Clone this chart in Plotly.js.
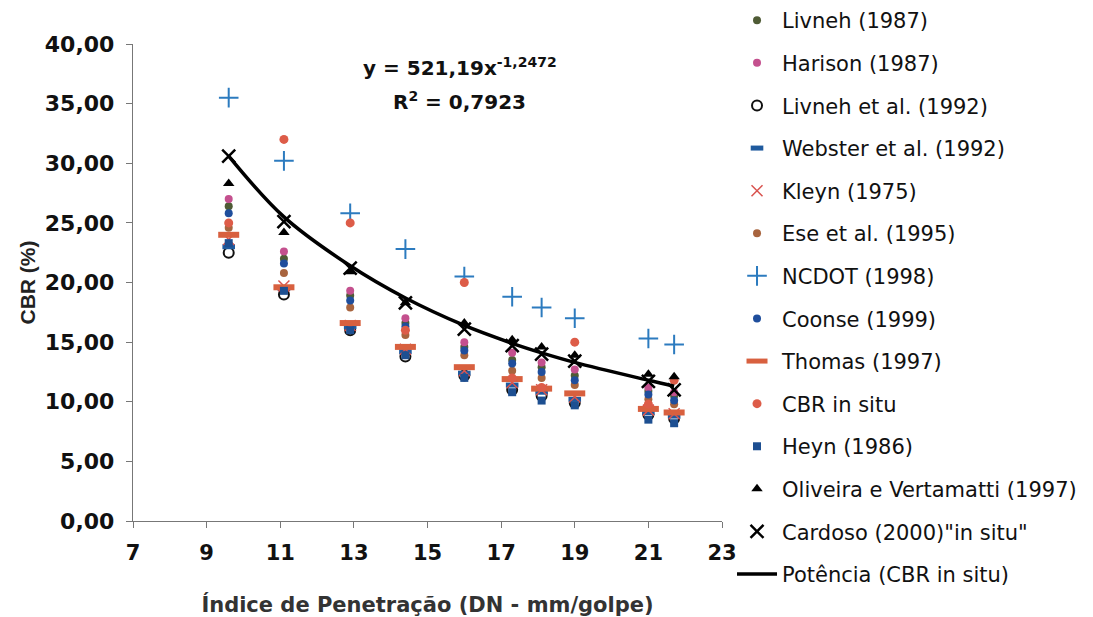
<!DOCTYPE html>
<html>
<head>
<meta charset="utf-8">
<script src="https://cdn.plot.ly/plotly-3.0.1.min.js"></script>
<style>html,body{margin:0;padding:0;background:#fff;}#chart{width:1093px;height:617px;}</style>
</head>
<body>
<div id="chart"></div>
<script>
const xDN = [9.6, 11.1, 12.9, 14.4, 16.0, 17.3, 18.1, 19.0, 21.0, 21.7];

const livneh1987   = [26.4, 22.0, 18.9, 16.6, 14.6, 13.5, 12.9, 12.2, 10.9, 10.5];
const harison1987  = [27.0, 22.6, 19.3, 17.0, 15.0, 14.1, 13.3, 12.7, 11.2, 10.8];
const livnehEtAl   = [22.5, 19.0, 16.0, 13.8, 12.2, 11.0, 10.5, 9.9, 8.9, 8.6];
const webster1992  = [23.0, 19.5, 16.3, 14.2, 12.4, 11.4, 10.8, 10.2, 9.1, 8.8];
const kleyn1975    = [23.6, 19.7, 16.4, 14.4, 12.6, 11.6, 11.0, 10.4, 9.3, 9.0];
const ese1995      = [24.6, 20.8, 17.9, 15.6, 13.9, 12.6, 12.0, 11.4, 10.2, 9.8];
const ncdot1998    = [35.5, 30.2, 25.8, 22.8, 20.5, 18.8, 17.9, 17.0, 15.3, 14.8];
const coonse1999   = [25.8, 21.6, 18.5, 16.3, 14.3, 13.2, 12.5, 11.8, 10.6, 10.1];
const thomas1997   = [24.0, 19.6, 16.6, 14.6, 12.9, 11.9, 11.1, 10.7, 9.4, 9.1];
const cbrInSitu    = [25.0, 32.0, 25.0, 16.0, 20.0, 12.0, 11.2, 15.0, 9.8, 11.8];
const heyn1986     = [23.3, 19.3, 16.0, 13.9, 12.0, 10.8, 10.1, 9.7, 8.5, 8.2];
const oliveira1997 = [28.3, 24.2, 20.9, 18.3, 16.6, 15.2, 14.6, 13.9, 12.3, 12.1];
const cardoso2000  = [30.6, 25.1, 21.2, 18.3, 16.1, 14.7, 14.0, 13.4, 11.7, 11.0];
const trendCBR     = [30.6, 25.5, 21.4, 18.7, 16.4, 14.9, 14.1, 13.3, 11.8, 11.3];

const names = ["Livneh (1987)", "Harison (1987)", "Livneh et al. (1992)", "Webster et al. (1992)",
  "Kleyn (1975)", "Ese et al. (1995)", "NCDOT (1998)", "Coonse (1999)", "Thomas (1997)",
  "CBR in situ", "Heyn (1986)", "Oliveira e Vertamatti (1997)", "Cardoso (2000)\"in situ\"",
  "Potência (CBR in situ)"];

const wide = "DejaVu Sans, Verdana, sans-serif";
const arial = "Liberation Sans, Arial, sans-serif";

function pts(name, y, marker, i) {
  return {type: "scatter", mode: "markers", name: name, x: xDN, y: y, marker: marker,
          legendgroup: "g" + i, showlegend: true, cliponaxis: false};
}

const traces = [
  pts(names[0], livneh1987, {symbol: "circle", size: 8, color: "#4f5b35"}, 0),
  pts(names[1], harison1987, {symbol: "circle", size: 8, color: "#c4508e"}, 1),
  pts(names[2], livnehEtAl, {symbol: "circle-open", size: 10, color: "#111", line: {width: 2}}, 2),
  pts(names[3], webster1992, {symbol: "line-ew", size: 9, color: "#1f5a9e", line: {width: 5, color: "#1f5a9e"}}, 3),
  pts(names[4], kleyn1975, {symbol: "x-thin-open", size: 11, color: "#d9534f", line: {width: 1.5}}, 4),
  pts(names[5], ese1995, {symbol: "circle", size: 8, color: "#a8643e"}, 5),
  pts(names[6], ncdot1998, {symbol: "cross-thin-open", size: 14, color: "#2c7bbf", line: {width: 2}}, 6),
  pts(names[7], coonse1999, {symbol: "circle", size: 8, color: "#1f4e9c"}, 7),
  pts(names[8], thomas1997, {symbol: "line-ew", size: 15, color: "#d8603f", line: {width: 6, color: "#d8603f"}}, 8),
  pts(names[9], cbrInSitu, {symbol: "circle", size: 9, color: "#dd5c48"}, 9),
  pts(names[10], heyn1986, {symbol: "square", size: 8, color: "#1d4f91"}, 10),
  pts(names[11], oliveira1997, {symbol: "triangle-up", size: 10, color: "#000"}, 11),
  pts(names[12], cardoso2000, {symbol: "x-thin-open", size: 13, color: "#000", line: {width: 2.5}}, 12),
  {type: "scatter", mode: "lines", name: names[13], x: xDN, y: trendCBR,
   line: {color: "#000", width: 3.5, shape: "spline", smoothing: 1.0}, legendgroup: "g13"}
];

const layout = {
  width: 1093, height: 617,
  margin: {l: 133, r: 371, t: 44, b: 96, autoexpand: false},
  paper_bgcolor: "#fff", plot_bgcolor: "#fff",
  separators: ", ",
  font: {family: wide, color: "#111"},
  showlegend: true,
  legend: {x: 1.017, xanchor: "left", y: 1.092, yanchor: "top", xref: "paper", yref: "paper",
           font: {family: wide, size: 21, color: "#111"}, tracegroupgap: 12.3,
           traceorder: "grouped", bgcolor: "rgba(0,0,0,0)", itemwidth: 40, maxheight: 617},
  xaxis: {range: [7, 23], dtick: 2, tick0: 7, showgrid: false, zeroline: false, automargin: false,
          showline: true, linecolor: "#777", linewidth: 1.2, ticks: "outside", ticklen: 6, tickcolor: "#777",
          ticklabelstandoff: 7,
          tickfont: {family: wide, size: 21, color: "#111", weight: "bold"},
          title: {text: "<b>Índice de Penetração (DN - mm/golpe)</b>", standoff: 32,
                  font: {family: wide, size: 21, color: "#333"}}},
  yaxis: {range: [0, 40], dtick: 5, tickformat: ".2f", showgrid: false, zeroline: false, automargin: false,
          showline: true, linecolor: "#777", linewidth: 1.2, ticks: "outside", ticklen: 6, tickcolor: "#777",
          ticklabelstandoff: 7,
          tickfont: {family: wide, size: 22, color: "#111", weight: "bold"},
          title: {text: "<b>CBR (%)</b>", standoff: 3, font: {family: arial, size: 21, color: "#222"}}},
  annotations: [
    {xref: "paper", yref: "paper", x: 0.555, y: 0.952, xanchor: "center", yanchor: "middle", showarrow: false,
     text: "<b>y = 521,19x<sup>-1,2472</sup></b>", font: {family: wide, size: 20, color: "#111"}},
    {xref: "paper", yref: "paper", x: 0.555, y: 0.88, xanchor: "center", yanchor: "middle", showarrow: false,
     text: "<b>R<sup>2</sup> = 0,7923</b>", font: {family: wide, size: 20, color: "#111"}}
  ]
};

Plotly.newPlot("chart", traces, layout, {displayModeBar: false, staticPlot: true});
</script>
</body>
</html>
